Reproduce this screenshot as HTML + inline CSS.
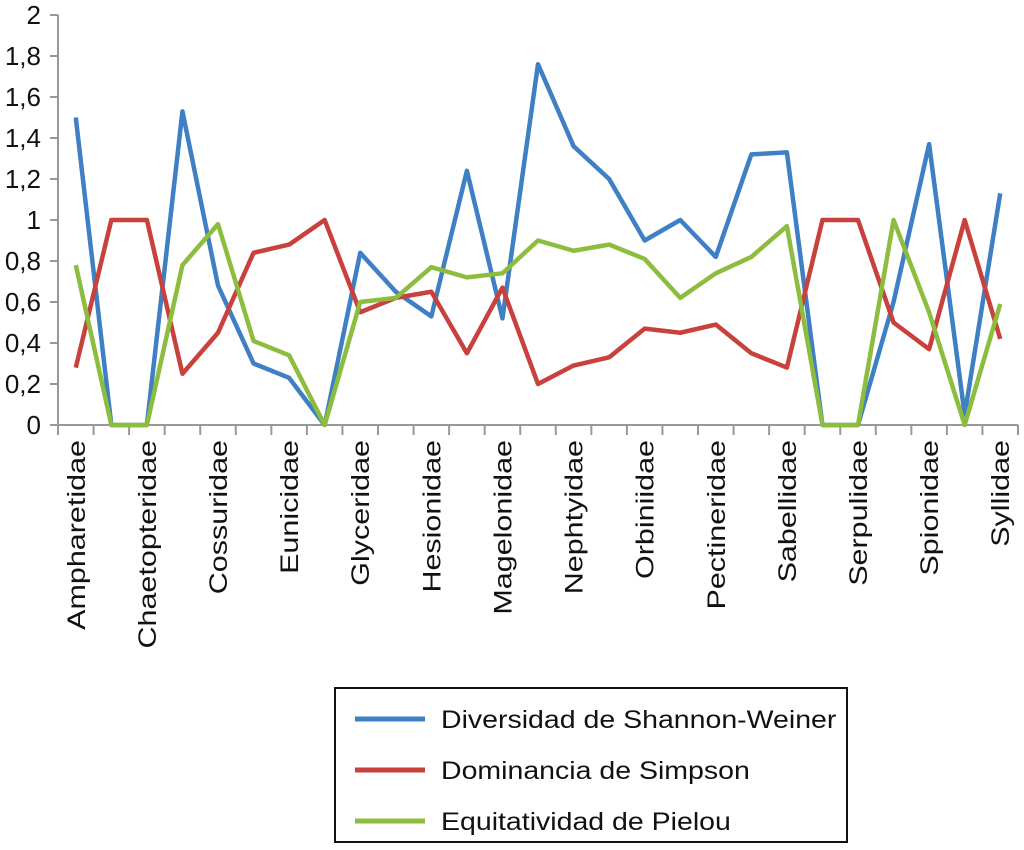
<!DOCTYPE html>
<html><head><meta charset="utf-8"><style>
body{margin:0;background:#fff;}
svg{display:block;font-family:"Liberation Sans",sans-serif;}
</style></head><body>
<svg id="chart" width="1024" height="850" viewBox="0 0 1024 850" xmlns="http://www.w3.org/2000/svg"></svg>
<script>
const categories=["Ampharetidae","Capitellidae","Chaetopteridae","Cirratulidae","Cossuridae","Dorvilleidae","Eunicidae","Flabelligeridae","Glyceridae","Goniadidae","Hesionidae","Lumbrineridae","Magelonidae","Maldanidae","Nephtyidae","Nereididae","Orbiniidae","Paraonidae","Pectineridae","Pilargidae","Sabellidae","Scalibregmatidae","Serpulidae","Sigalionidae","Spionidae","Sternaspidae","Syllidae"];
const shannon=[1.5,0,0,1.53,0.68,0.3,0.23,0,0.84,0.65,0.53,1.24,0.52,1.76,1.36,1.2,0.9,1.0,0.82,1.32,1.33,0,0,0.6,1.37,0.05,1.13];
const simpson=[0.28,1,1,0.25,0.45,0.84,0.88,1.0,0.55,0.62,0.65,0.35,0.67,0.2,0.29,0.33,0.47,0.45,0.49,0.35,0.28,1,1,0.5,0.37,1,0.42];
const pielou=[0.78,0,0,0.78,0.98,0.41,0.34,0,0.6,0.62,0.77,0.72,0.74,0.9,0.85,0.88,0.81,0.62,0.74,0.82,0.97,0,0,1.0,0.55,0,0.59];
const yTicks=["0","0,2","0,4","0,6","0,8","1","1,2","1,4","1,6","1,8","2"];
const yVals=[0,0.2,0.4,0.6,0.8,1,1.2,1.4,1.6,1.8,2];
const seriesNames=["Diversidad de Shannon-Weiner","Dominancia de Simpson","Equitatividad de Pielou"];
const colors=["#3f7fc4","#c8413c","#8cbd3f"];

const NS="http://www.w3.org/2000/svg";
const svg=document.getElementById('chart');
const X0=58,X1=1018,Y0=425,Y2=15;
const step=(X1-X0)/categories.length;
const xs=i=>X0+(i+0.5)*step;
const ys=v=>Y0-(v/2)*(Y0-Y2);
function mk(t,a){const e=document.createElementNS(NS,t);for(const k in a)e.setAttribute(k,a[k]);svg.appendChild(e);return e;}

let ax=mk('line',{x1:X0-8,y1:Y0,x2:X1,y2:Y0,stroke:'#999','stroke-width':2});


let ay=mk('line',{x1:X0,y1:Y2,x2:X0,y2:Y0,stroke:'#999','stroke-width':2});


yVals.forEach((v,i)=>{
  const t=mk('line',{x1:X0-8,y1:ys(v),x2:X0,y2:ys(v),stroke:'#999','stroke-width':2});
  
  
  const l=mk('text',{x:41,y:ys(v)+9,'text-anchor':'end','font-size':26,fill:'#111'});
  l.textContent=yTicks[i];
  
  
});
for(let i=0;i<=categories.length;i++){
  const x=X0+i*step;
  const t=mk('line',{x1:x,y1:Y0,x2:x,y2:Y0+10,stroke:'#999','stroke-width':2});
  
  
}
categories.forEach((c,i)=>{
  if(i%2) return;
  const x=xs(i)+9,y=440;
  const l=mk('text',{x:0,y:0,transform:`translate(${x} ${y}) rotate(-90) scale(1.22 1)`,'text-anchor':'end','font-size':25,fill:'#111'});
  l.textContent=c;
  
  
});
[shannon,simpson,pielou].forEach((s,k)=>{
  const p=mk('polyline',{points:s.map((v,i)=>xs(i)+','+ys(v)).join(' '),fill:'none',stroke:colors[k],'stroke-width':4.5,'stroke-linejoin':'round'});
  
  
});
const lg=mk('rect',{x:335,y:688,width:512,height:154,fill:'#fff',stroke:'#111','stroke-width':2});


seriesNames.forEach((n,k)=>{
  const y=719+k*51;
  const l=mk('line',{x1:355,y1:y,x2:425,y2:y,stroke:colors[k],'stroke-width':5});
  
  
  const t=mk('text',{x:0,y:0,transform:`translate(441 ${y+9}) scale(1.14 1)`,'font-size':25,fill:'#111'});
  t.textContent=n;
  
  
});
</script>
</body></html>
